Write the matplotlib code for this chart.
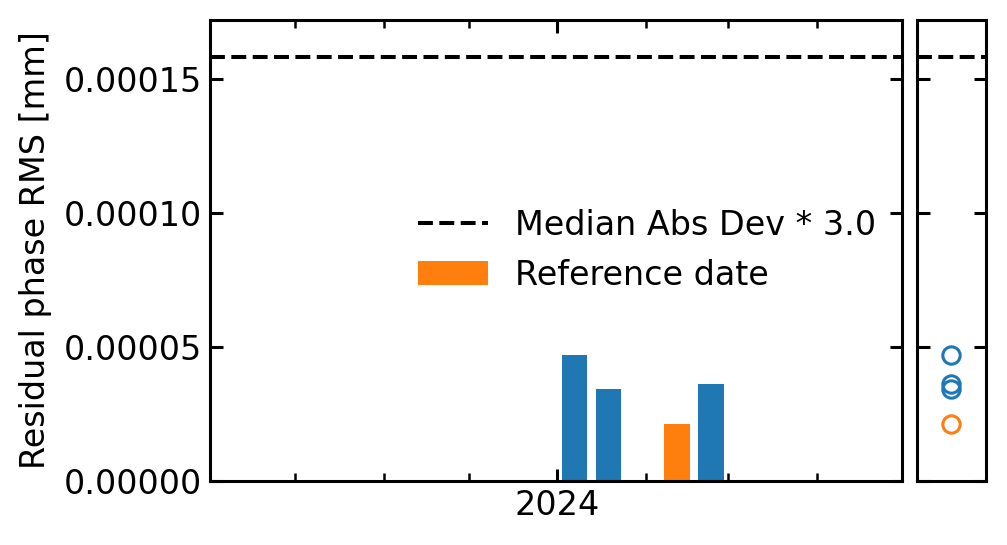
import numpy as np
import matplotlib
matplotlib.use("Agg")
import matplotlib.pyplot as plt
import matplotlib.dates as mdates
from matplotlib.ticker import FormatStrFormatter, MultipleLocator

# values
dates = np.array(["2024-01-07", "2024-01-19", "2024-02-12", "2024-02-24"], dtype="datetime64[D]")
rms = [4.72e-5, 3.45e-5, 2.13e-5, 3.63e-5]
is_ref = [False, False, True, False]
mad_limit = 1.582e-4
xlim = np.array(["2023-09-01", "2024-05-01"], dtype="datetime64[D]")

blue = "#1f77b4"
orange = "#ff7f0e"
colors = [orange if r else blue for r in is_ref]

plt.rcParams["font.size"] = 24
plt.rcParams["axes.linewidth"] = 2.2

fig = plt.figure(figsize=(10.07, 5.45), dpi=100)
ax = fig.add_axes([0.2085, 0.1174, 0.6872, 0.8459])
ax2 = fig.add_axes([0.9106, 0.1174, 0.0685, 0.8459])

x = mdates.date2num(dates.astype("datetime64[s]").astype(object))
ax.bar(x, rms, width=9, color=colors)
ax.axhline(mad_limit, color="k", ls="--", lw=2.9, label="Median Abs Dev * 3.0")
ax.bar([np.nan], [np.nan], color=orange, label="Reference date")

ax.set_xlim(mdates.date2num(xlim.astype("datetime64[s]").astype(object)))
ax.xaxis.set_major_locator(mdates.YearLocator())
ax.xaxis.set_major_formatter(mdates.DateFormatter("%Y"))
ax.xaxis.set_minor_locator(mdates.MonthLocator())

ylim = (0, 1.72e-4)
ax.set_ylim(ylim)
ax.yaxis.set_major_locator(MultipleLocator(5e-5))
ax.yaxis.set_major_formatter(FormatStrFormatter("%.5f"))
ax.set_ylabel("Residual phase RMS [mm]", labelpad=8)

for a in (ax, ax2):
    a.tick_params(which="major", direction="in", length=9, width=2.2,
                  top=True, right=True, pad=6)
    a.tick_params(which="minor", direction="in", length=5.5, width=1.8,
                  top=True, right=True)

ax.legend(loc="upper left", bbox_to_anchor=(0.258, 0.655), frameon=False,
          handlelength=2.1, handletextpad=0.8)

for v, c in zip(rms, colors):
    ax2.plot(0, v, "o", mfc="none", mec=c, ms=12.5, mew=2.2)
ax2.axhline(mad_limit, color="k", ls="--", lw=2.9)
ax2.set_xlim(-1, 1)
ax2.set_ylim(ylim)
ax2.yaxis.set_major_locator(MultipleLocator(5e-5))
ax2.set_yticklabels([])
ax2.set_xticks([])
ax2.tick_params(which="both", top=False, bottom=False)

fig.savefig("out.png", dpi=100)
